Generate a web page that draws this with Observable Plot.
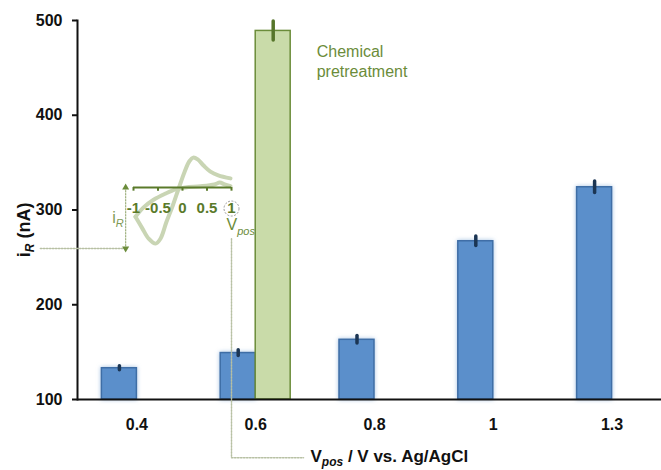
<!DOCTYPE html>
<html>
<head>
<meta charset="utf-8">
<script src="https://cdn.jsdelivr.net/npm/d3@7"></script>
<script src="https://cdn.jsdelivr.net/npm/@observablehq/plot@0.6"></script>
<style>
  body { margin: 0; background: #fff; }
  #wrap { position: relative; width: 661px; height: 470px; overflow: hidden; }
  #wrap svg { position: absolute; left: 0; top: 0; }
</style>
</head>
<body>
<div id="wrap"></div>
<script>
// ---- main chart data ----
const categories = ["0.4", "0.6", "0.8", "1", "1.3"];
const electroValues = [133, 149, 163, 267, 324];
const electroErrors = [2, 3, 4, 5, 6];
const chemCategory = ["0.6"];
const chemValues = [489];
const chemErrors = [10];
const yTicks = [100, 200, 300, 400, 500];
const yLabel = "iR (nA)";
const yLabelAt = [279];
const xLabel = "Vpos / V vs. Ag/AgCl";
const chemLabel = "Chemical\npretreatment";

// ---- inset (cyclic voltammogram sketch) data, V vs current (arb.) ----
const cvForwardV = [-0.96, -0.82, -0.69, -0.55, -0.45, -0.33, -0.20, -0.08, 0.04, 0.14, 0.22, 0.31, 0.43, 0.57, 0.73, 0.98];
const cvForwardI = [-0.48, -0.67, -0.84, -0.92, -0.84, -0.57, -0.30, -0.02, 0.25, 0.43, 0.49, 0.46, 0.36, 0.26, 0.20, 0.15];
const cvReturnV = [0.98, 0.86, 0.76, 0.65, 0.37, 0.06, -0.14, -0.35, -0.59, -0.80, -0.96];
const cvReturnI = [0.02, 0.05, 0.08, 0.05, 0.02, 0.0, -0.03, -0.10, -0.20, -0.33, -0.48];
const insetTicks = [-1, -0.5, 0, 0.5, 1];
const leaderIRV = [-2.9, -1.16];
const leaderIRI = [-1, -1];
const leaderVposV = [1, 1, 2.47];
const leaderVposI = [-0.84, -4.43, -4.43];
const arrowIRV = [-1.16, -1.16];
const arrowIRI = [0, -1];

const electro = categories.map((c, i) => ({cat: c, value: electroValues[i], err: electroErrors[i]}));
const chem = chemCategory.map((c, i) => ({cat: c, value: chemValues[i], err: chemErrors[i]}));

const font = "'Liberation Sans', Arial, sans-serif";
const olive = "#6b8c3a";
const oliveDark = "#5a7a2a";

const main = Plot.plot({
  width: 661, height: 470,
  marginTop: 20, marginBottom: 71, marginLeft: 77, marginRight: 0,
  style: {fontFamily: font, background: "transparent", overflow: "visible"},
  x: {domain: categories, range: [77, 671], paddingInner: 0.411, paddingOuter: 0.2055, round: false, label: null, axis: null},
  y: {domain: [100, 500], label: null, axis: null},
  marks: [
    Plot.barY(electro, {x: "cat", y1: 100, y2: "value", insetRight: 35, fill: "#5b8fcb", stroke: "#3f6ea6", strokeWidth: 1.5}),
    Plot.barY(chem, {x: "cat", y1: 100, y2: "value", insetLeft: 35, fill: "#c9dba9", stroke: olive, strokeWidth: 1.5}),
    Plot.ruleX(electro, {x: "cat", y1: d => d.value - d.err, y2: d => d.value + d.err, dx: -17.5, stroke: "#1b3553", strokeWidth: 3.5, strokeLinecap: "round"}),
    Plot.ruleX(chem, {x: "cat", y1: d => d.value - d.err, y2: d => d.value + d.err, dx: 17.5, stroke: "#56752a", strokeWidth: 3.5, strokeLinecap: "round"}),
    Plot.ruleY([100], {stroke: "#111", strokeWidth: 2}),
    Plot.frame({anchor: "left", stroke: "#111", strokeWidth: 2}),
    Plot.axisY({ticks: yTicks, tickSize: 5, tickPadding: 10, fontSize: 16, fontWeight: "bold", fill: "#111", stroke: "#111", strokeWidth: 2, label: null}),
    Plot.axisX({tickSize: 0, tickPadding: 19, fontSize: 16, fontWeight: "bold", fill: "#111", label: null}),
    Plot.text(yLabelAt, {y: d => d, text: () => yLabel, frameAnchor: "left", textAnchor: "middle", rotate: -90, dx: -53, fontSize: 18, fontWeight: "bold", fill: "#111"}),
    Plot.text([xLabel], {frameAnchor: "bottom-left", textAnchor: "start", dx: 233, dy: 62, fontSize: 17, fontWeight: "bold", fill: "#111"}),
    Plot.text(chem, {x: "cat", y: "value", text: () => chemLabel, textAnchor: "start", lineAnchor: "top", dx: 61, dy: 12, fontSize: 16, fill: olive, lineHeight: 1.25})
  ]
});

const fwd = cvForwardV.map((v, i) => ({v, i: cvForwardI[i]}));
const ret = cvReturnV.map((v, i) => ({v, i: cvReturnI[i]}));
const lIR = leaderIRV.map((v, i) => ({v, i: leaderIRI[i]}));
const lVp = leaderVposV.map((v, i) => ({v, i: leaderVposI[i]}));
const aIR = arrowIRV.map((v, i) => ({v, i: arrowIRI[i]}));

const inset = Plot.plot({
  width: 661, height: 470, margin: 0,
  style: {fontFamily: font, background: "transparent", overflow: "visible"},
  x: {domain: [-1, 1], range: [133, 231], axis: null},
  y: {domain: [0, -1], range: [187, 248], axis: null},
  marks: [
    Plot.line(lIR, {x: "v", y: "i", stroke: "#b7c0a3", strokeWidth: 1.5, strokeDasharray: "1.5,1.5"}),
    Plot.line(lVp, {x: "v", y: "i", stroke: "#b7c0a3", strokeWidth: 1.5, strokeDasharray: "1.5,1.5"}),
    Plot.line(aIR, {x: "v", y: "i", stroke: "#9fb07e", strokeWidth: 1.2, strokeDasharray: "1.5,1.5"}),
    Plot.dot(aIR, {x: "v", y: "i", symbol: "triangle", r: 2.6, fill: olive, stroke: "none", rotate: (d, k) => k === 0 ? 0 : 180}),
    Plot.line(fwd, {x: "v", y: "i", stroke: "#c9d5b4", strokeWidth: 4, curve: "catmull-rom", strokeLinecap: "round"}),
    Plot.line(ret, {x: "v", y: "i", stroke: "#c9d5b4", strokeWidth: 4, curve: "catmull-rom", strokeLinecap: "round"}),
    Plot.ruleY([0], {x1: -1, x2: 1, stroke: oliveDark, strokeWidth: 2}),
    Plot.ruleX(insetTicks, {y1: 0, y2: -0.06, stroke: oliveDark, strokeWidth: 2}),
    Plot.text(insetTicks, {x: d => d, y: -0.345, text: d => String(d), fontSize: 15, fontWeight: "bold", fill: oliveDark}),
    Plot.dot([1], {x: d => d, y: -0.345, r: 7.5, stroke: "#9a9a9a", strokeDasharray: "2,1.5", fill: "none", strokeWidth: 1}),
    Plot.text(["Vpos"], {x: 1, y: -0.62, dx: -5, textAnchor: "start", fontSize: 16, fill: olive}),
    Plot.text(["iR"], {x: -1.16, y: -0.49, dx: -2, textAnchor: "end", fontSize: 16, fill: "#7f9a55"})
  ]
});

const NS = "http://www.w3.org/2000/svg";
function rich(root, match, segs, subSize, shift) {
  root.querySelectorAll("text").forEach(t => {
    if (t.textContent !== match) return;
    t.textContent = "";
    let prevSub = false;
    segs.forEach(([str, sub]) => {
      const ts = document.createElementNS(NS, "tspan");
      ts.textContent = str;
      if (sub) {
        ts.setAttribute("font-size", subSize);
        ts.setAttribute("font-style", "italic");
        ts.setAttribute("dy", shift);
      } else if (prevSub) {
        ts.setAttribute("dy", -shift);
      }
      prevSub = sub;
      t.appendChild(ts);
    });
  });
}
rich(main, yLabel, [["i", false], ["R", true], [" (nA)", false]], 12, 4);
rich(main, xLabel, [["V", false], ["pos", true], [" / V vs. Ag/AgCl", false]], 12, 4);
rich(inset, "Vpos", [["V", false], ["pos", true]], 11, 5);
rich(inset, "iR", [["i", false], ["R", true]], 11, 4);

const bars = main.querySelectorAll('g[aria-label="bar"]');
if (bars[0]) bars[0].style.filter = "drop-shadow(0 0 2px rgba(91,143,203,0.55))";

const wrap = document.getElementById("wrap");
wrap.appendChild(main);
wrap.appendChild(inset);
</script>
</body>
</html>
